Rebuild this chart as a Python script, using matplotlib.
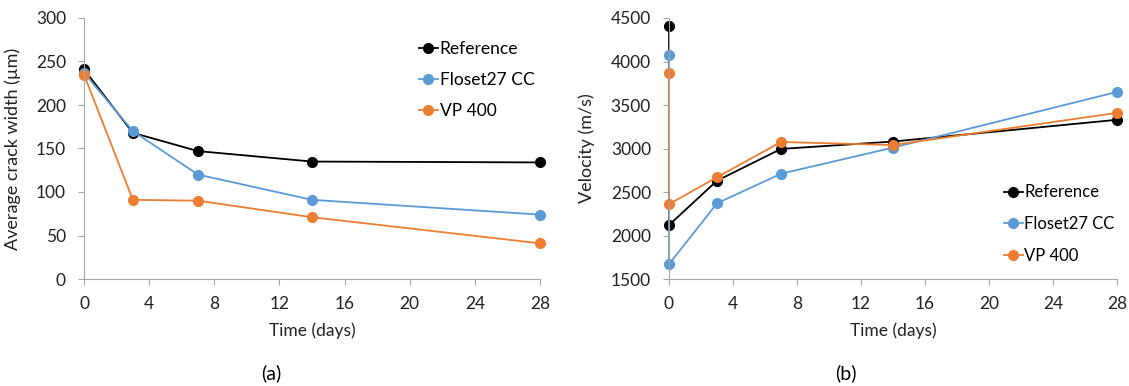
import matplotlib
matplotlib.use("Agg")
import matplotlib.pyplot as plt

plt.rcParams['font.family'] = ['Lato', 'DejaVu Sans']

series = ["Reference", "Floset27 CC", "VP 400"]
colors = ["#000000", "#5b9bd5", "#ed7d31"]

# crack width (µm)
days_w = [0, 3, 7, 14, 28]
width_ref = [241, 168, 147, 135, 134]
width_flo = [237, 170, 120, 91, 74]
width_vp = [235, 91, 90, 71, 41]

# velocity (m/s), two readings at day 0
days_v = [0, 0, 3, 7, 14, 28]
vel_ref = [4410, 2120, 2630, 2995, 3080, 3330]
vel_flo = [4080, 1670, 2370, 2710, 3010, 3650]
vel_vp = [3870, 2360, 2670, 3075, 3040, 3410]

W, H = 1129, 386
fig = plt.figure(figsize=(W / 100, H / 100), dpi=100)
ax1 = fig.add_axes([84 / W, 1 - 279 / H, 456 / W, 261 / H])
ax2 = fig.add_axes([669 / W, 1 - 279 / H, 448 / W, 261 / H])


def style(ax):
    for s in ["top", "right"]:
        ax.spines[s].set_visible(False)
    for s in ["left", "bottom"]:
        ax.spines[s].set_color("#a6a6a6")
    ax.tick_params(colors="#a6a6a6", labelcolor="#222222", labelsize=12.5, length=4)
    ax.tick_params(axis="y", pad=9)
    ax.tick_params(axis="x", pad=8)
    ax.set_xlim(0, 28)
    ax.set_xticks(range(0, 29, 4))
    ax.set_xlabel("Time (days)", fontsize=12.5, color="#222222")
    ax.xaxis.set_label_coords(0.5, -0.165)


for y, name, c in zip([width_ref, width_flo, width_vp], series, colors):
    ax1.plot(days_w, y, color=c, marker="o", markersize=7, lw=1.3, label=name, clip_on=False)
style(ax1)
ax1.set_ylim(0, 300)
ax1.set_yticks(range(0, 301, 50))
ax1.set_ylabel("Average crack width (\u00b5m)", fontsize=13, color="#222222")
ax1.yaxis.set_label_coords(-0.138, 0.5)
ax1.legend(loc="upper left", bbox_to_anchor=(0.70, 0.97), frameon=False, fontsize=12.5,
           handlelength=1.1, handletextpad=0.1, labelspacing=0.85)

for y, name, c in zip([vel_ref, vel_flo, vel_vp], series, colors):
    ax2.plot(days_v, y, color=c, marker="o", markersize=7, lw=1.3, label=name, clip_on=False)
style(ax2)
ax2.set_ylim(1500, 4500)
ax2.set_yticks(range(1500, 4501, 500))
ax2.set_ylabel("Velocity (m/s)", fontsize=13, color="#222222")
ax2.yaxis.set_label_coords(-0.165, 0.5)
ax2.legend(loc="upper left", bbox_to_anchor=(0.715, 0.42), frameon=False, fontsize=12,
           handlelength=1.1, handletextpad=0.1, labelspacing=0.95)

fig.text(271 / W, 1 - 373 / H, "(a)", ha="center", va="center", fontsize=14)
fig.text(846 / W, 1 - 373 / H, "(b)", ha="center", va="center", fontsize=14)

fig.savefig("out.png", dpi=100)
